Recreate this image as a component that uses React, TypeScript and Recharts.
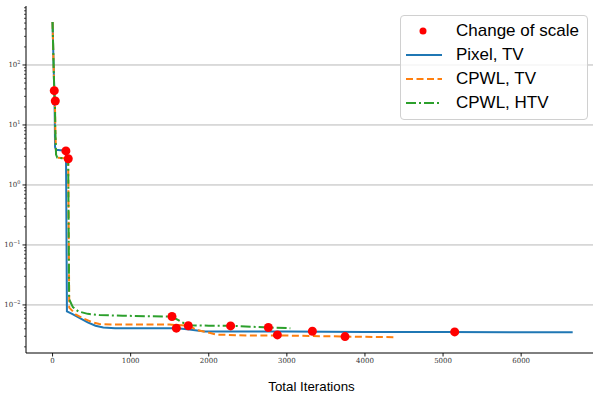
import React from "react"
import {
  ComposedChart,
  Line,
  Scatter,
  XAxis,
  YAxis,
  CartesianGrid,
} from "recharts"

// iterations / cost for each run
const pixelTvX = [0, 10, 22, 28, 32, 45, 100, 160, 172, 184, 250, 350, 450, 550, 650, 800, 1200, 1600, 1750, 1950, 3000, 4000, 5000, 6660]
const pixelTvY = [520, 150, 37, 15, 4.3, 3.85, 3.8, 3.75, 3.6, 0.0078, 0.0071, 0.006, 0.0051, 0.0045, 0.0042, 0.0041, 0.0041, 0.0041, 0.0039, 0.0036, 0.0036, 0.00355, 0.00354, 0.0035]

const cpwlTvX = [0, 10, 22, 30, 36, 45, 60, 150, 200, 214, 300, 400, 500, 600, 750, 1000, 1500, 1740, 1850, 2020, 2100, 2500, 2880, 3745, 4400]
const cpwlTvY = [520, 150, 37, 25, 8, 3.2, 2.85, 2.78, 2.74, 0.009, 0.0069, 0.0059, 0.0052, 0.0048, 0.0047, 0.0047, 0.0047, 0.0045, 0.0038, 0.0034, 0.0032, 0.0031, 0.0031, 0.00297, 0.0029]

const cpwlHtvX = [0, 10, 22, 30, 36, 45, 60, 150, 200, 212, 260, 330, 450, 600, 900, 1200, 1529, 1650, 1738, 2000, 2280, 2763, 3045]
const cpwlHtvY = [520, 150, 37, 25, 8, 3.2, 2.85, 2.78, 2.74, 0.0125, 0.0092, 0.0078, 0.0071, 0.0068, 0.0066, 0.0065, 0.0064, 0.0052, 0.0046, 0.0045, 0.0045, 0.0042, 0.0041]

// red dots where the scale changes
const scaleX = [22, 35, 171, 201, 1529, 1585, 1738, 2280, 2763, 2879, 3327, 3745, 5149]
const scaleY = [37.3, 25.1, 3.69, 2.74, 0.0064, 0.0041, 0.0045, 0.00447, 0.0042, 0.00316, 0.00364, 0.00297, 0.00355]

const xTicks = [0, 1000, 2000, 3000, 4000, 5000, 6000]
const yMajor = [0.01, 0.1, 1, 10, 100]
const yMinor = [2, 3, 4, 5, 6, 7, 8, 9]

const toPoints = (xs: number[], ys: number[]) => xs.map((x, i) => ({ x, y: ys[i] }))

const pixelTv = toPoints(pixelTvX, pixelTvY)
const cpwlTv = toPoints(cpwlTvX, cpwlTvY)
const cpwlHtv = toPoints(cpwlHtvX, cpwlHtvY)
const scaleChanges = toPoints(scaleX, scaleY)

const yTicks = [
  ...yMajor,
  ...[0.001, 0.01, 0.1, 1, 10, 100].flatMap((d) => yMinor.map((m) => +(m * d).toPrecision(3))),
].filter((v) => v > 0.00158 && v < 962)

const TICK_SIZE = 3.5
const TICK_MARGIN = 2
const serif = '"DejaVu Serif", "Liberation Serif", serif'
const sans = '"Liberation Sans", Arial, sans-serif'

function LogTick(props: any) {
  const { x, y, payload } = props
  const lg = Math.log10(payload.value)
  const exp = Math.round(lg)
  const major = Math.abs(lg - exp) < 1e-6
  const axisX = x + TICK_SIZE + TICK_MARGIN
  return (
    <g>
      <line x1={axisX - (major ? 3.5 : 2)} x2={axisX} y1={y} y2={y} stroke="#000" strokeWidth={major ? 0.9 : 0.7} />
      {major && (
        <text x={x} y={y + 2.5} textAnchor="end" fontFamily={serif} fontSize={7} fill="#333">
          10
          <tspan dy={-3} fontSize={5}>
            {exp < 0 ? "\u2212" + Math.abs(exp) : exp}
          </tspan>
        </text>
      )}
    </g>
  )
}

function XTick(props: any) {
  const { x, y, payload } = props
  return (
    <text x={x} y={y} dy="0.71em" textAnchor="middle" fontFamily={serif} fontSize={7} fill="#333">
      {payload.value}
    </text>
  )
}

const legendItems = [
  { label: "Change of scale", kind: "dot", color: "#ff0000", dash: "" },
  { label: "Pixel, TV", kind: "line", color: "#1f77b4", dash: "" },
  { label: "CPWL, TV", kind: "line", color: "#ff7f0e", dash: "7 3.5" },
  { label: "CPWL, HTV", kind: "line", color: "#2ca02c", dash: "10 3 2 3" },
]

function ChartLegend() {
  return (
    <div
      style={{
        position: "absolute",
        left: 400,
        top: 15,
        width: 188,
        height: 105,
        boxSizing: "border-box",
        border: "1px solid #d0d0d0",
        borderRadius: 4,
        background: "rgba(255,255,255,0.8)",
        paddingTop: 3,
        fontFamily: sans,
        fontSize: 17,
        color: "#000",
      }}
    >
      {legendItems.map((item) => (
        <div key={item.label} style={{ display: "flex", alignItems: "center", height: 24 }}>
          <svg width={55} height={24} style={{ flex: "none" }}>
            {item.kind === "dot" ? (
              <circle cx={22} cy={12} r={3.5} fill={item.color} />
            ) : (
              <line x1={5} x2={41} y1={12} y2={12} stroke={item.color} strokeWidth={2} strokeDasharray={item.dash} />
            )}
          </svg>
          <span style={{ lineHeight: "24px", whiteSpace: "nowrap" }}>{item.label}</span>
        </div>
      ))}
    </div>
  )
}

export default function App() {
  return (
    <div style={{ position: "absolute", left: 0, top: 0, width: 594, height: 396, background: "#fff" }}>
      <ComposedChart width={594} height={396} margin={{ top: 6, right: 1, bottom: 0, left: 0 }}>
        <CartesianGrid vertical={false} horizontalValues={yMajor} stroke="#b8b8b8" strokeWidth={1} />
        <XAxis
          dataKey="x"
          type="number"
          domain={[-340, 6920]}
          allowDataOverflow
          ticks={xTicks}
          interval={0}
          height={43}
          tickSize={TICK_SIZE}
          tickMargin={TICK_MARGIN}
          tick={<XTick />}
          axisLine={{ stroke: "#000", strokeWidth: 1 }}
          tickLine={{ stroke: "#000", strokeWidth: 0.9 }}
          label={{
            value: "Total Iterations",
            position: "insideBottom",
            offset: 5,
            dx: 2,
            style: { fontFamily: sans, fontSize: 13.3, fill: "#000", textAnchor: "middle" },
          }}
        />
        <XAxis xAxisId="top" orientation="top" type="number" domain={[0, 1]} height={0} tick={false} tickLine={false} axisLine={{ stroke: "#000", strokeWidth: 1 }} />
        <YAxis
          dataKey="y"
          type="number"
          scale="log"
          domain={[0.00158, 962]}
          allowDataOverflow
          ticks={yTicks}
          interval={0}
          width={26}
          tickSize={TICK_SIZE}
          tickMargin={TICK_MARGIN}
          tickLine={false}
          tick={<LogTick />}
          axisLine={{ stroke: "#000", strokeWidth: 1 }}
        />
        <YAxis yAxisId="right" orientation="right" type="number" domain={[0, 1]} width={0} tick={false} tickLine={false} axisLine={{ stroke: "#000", strokeWidth: 1 }} />
        <Line data={pixelTv} dataKey="y" type="linear" stroke="#1f77b4" strokeWidth={2} dot={false} isAnimationActive={false} />
        <Line data={cpwlTv} dataKey="y" type="linear" stroke="#ff7f0e" strokeWidth={2} strokeDasharray="7 3.5" dot={false} isAnimationActive={false} />
        <Line data={cpwlHtv} dataKey="y" type="linear" stroke="#2ca02c" strokeWidth={2} strokeDasharray="10 3 2 3" dot={false} isAnimationActive={false} />
        <Scatter
          data={scaleChanges}
          dataKey="y"
          fill="#ff0000"
          isAnimationActive={false}
          shape={(p: any) => <circle cx={p.cx} cy={p.cy} r={4.5} fill="#ff0000" />}
        />
      </ComposedChart>
      <ChartLegend />
    </div>
  )
}
